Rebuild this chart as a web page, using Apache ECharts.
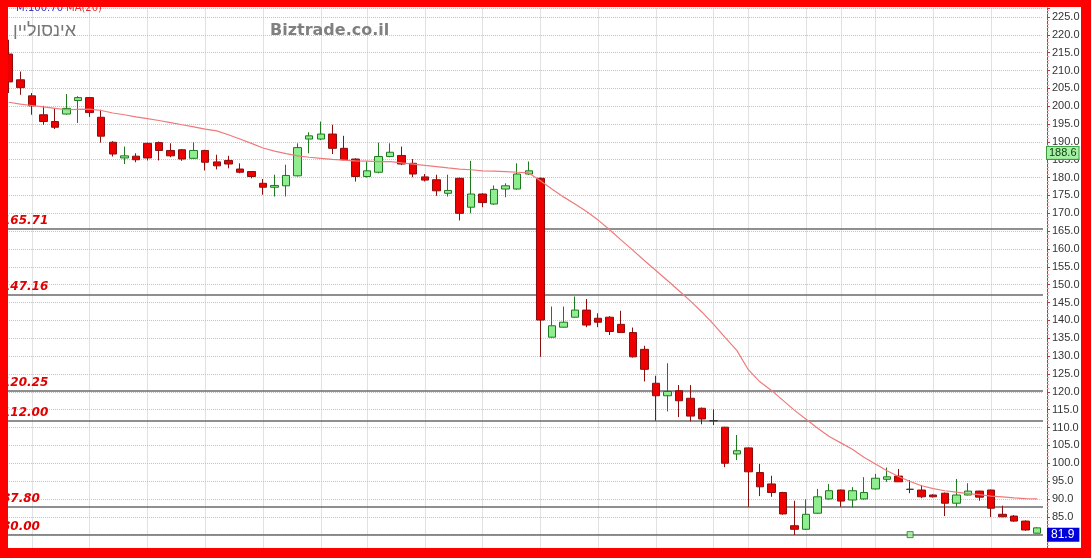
<!DOCTYPE html>
<html><head><meta charset="utf-8">
<script src="https://cdn.jsdelivr.net/npm/echarts/dist/echarts.min.js"></script>
<style>html,body{margin:0;padding:0;background:#fff;}#c{width:1091px;height:558px;}</style>
</head><body><div id="c"></div>
<script>
// ---- data ----
const categories = Array.from({length: 90}, (_, i) => 'D' + (i + 1));
const opens  = [214.6,207.4,202.9,197.6,195.7,197.8,201.6,202.4,196.9,189.9,
                185.5,186.0,189.6,189.8,187.6,187.8,185.4,187.6,184.4,184.8,
                182.4,181.7,178.4,177.3,177.7,180.5,190.8,190.8,192.2,188.2,
                185.2,180.3,181.5,185.9,186.2,184.0,180.2,179.4,175.6,179.8,
                171.7,175.4,172.6,176.8,176.8,181.0,179.8,135.3,138.1,140.9,
                142.9,140.6,140.9,138.9,136.6,131.9,122.4,118.9,120.3,118.2,
                115.4,111.9,110.1,102.6,104.3,97.4,94.2,91.8,82.5,81.5,
                86.0,90.0,92.5,89.7,90.0,92.8,95.5,96.4,92.7,92.5,
                91.1,91.6,88.8,91.1,92.2,92.5,85.7,85.2,83.8,80.4];
const closes = [206.8,205.2,200.1,195.7,194.1,199.4,202.4,198.2,191.6,186.6,
                186.1,185.0,185.5,187.6,186.1,185.2,187.6,184.3,183.3,183.8,
                181.5,180.3,177.3,177.8,180.6,188.4,191.7,192.2,188.2,185.0,
                180.3,181.9,185.9,187.1,183.8,181.0,179.3,176.3,176.4,170.0,
                175.4,173.0,176.7,177.7,181.0,181.9,140.1,138.5,139.5,142.9,
                138.7,139.5,136.9,136.6,129.8,126.3,118.9,120.1,117.5,113.2,
                112.4,111.9,100.0,103.5,97.6,93.4,91.8,85.8,81.5,85.7,
                90.6,92.3,89.4,92.3,91.8,95.8,96.2,94.8,92.7,90.6,
                90.6,88.8,91.1,92.2,90.5,87.4,85.0,83.8,81.3,81.9];
const lows   = [203.7,203.2,197.6,194.8,193.6,197.6,195.3,197.0,189.8,185.9,
                183.8,184.3,184.8,184.8,185.7,184.7,185.2,182.0,182.3,182.6,
                181.2,179.8,175.2,174.7,174.7,180.3,186.8,190.5,186.6,184.8,
                178.9,180.0,181.2,185.7,183.5,180.1,178.9,174.9,174.7,168.0,
                170.0,171.7,172.4,174.5,176.6,180.8,129.8,135.2,138.0,140.8,
                138.1,138.1,135.9,136.5,129.6,122.9,111.9,114.5,112.9,111.7,
                110.9,110.7,98.9,100.9,87.8,90.8,90.6,85.6,79.9,81.3,
                85.8,89.8,87.8,87.6,89.8,92.6,94.8,94.8,91.6,90.2,
                90.4,85.2,87.8,91.0,89.5,84.9,84.9,83.6,81.1,80.4];
const highs  = [218.6,209.7,203.7,200.1,199.5,203.4,202.8,202.6,199.0,190.2,
                188.7,186.8,189.8,190.1,189.6,188.0,189.9,187.8,186.4,186.1,
                184.0,181.8,179.6,180.8,183.6,189.6,192.7,195.7,194.8,191.7,
                185.4,184.5,189.8,189.6,188.7,185.2,181.0,180.8,180.8,180.0,
                184.7,175.6,177.8,178.4,184.0,184.5,180.0,143.9,143.9,146.7,
                146.0,142.0,141.2,142.7,138.0,132.9,124.5,128.0,121.9,121.9,
                115.6,115.1,110.2,107.9,104.4,99.8,96.5,92.0,89.5,89.9,
                92.8,94.2,92.6,93.3,96.1,97.0,98.8,98.4,95.3,93.9,
                91.3,91.8,95.6,94.4,92.3,92.6,88.1,85.5,84.0,82.1];
const ma20   = [201.1,200.6,200.2,199.8,199.4,199.0,199.1,199.2,198.8,198.1,
                197.6,197.0,196.5,196.0,195.4,194.8,194.2,193.6,193.1,192.0,
                190.8,189.6,188.3,187.4,186.7,186.1,185.7,185.4,185.1,184.9,
                184.7,184.6,184.5,184.5,184.1,183.8,183.4,183.1,182.7,182.4,
                182.2,181.9,181.8,181.7,181.5,181.3,179.1,176.8,174.6,172.6,
                170.5,168.1,165.4,162.5,159.7,156.8,154.0,151.2,148.3,145.4,
                142.3,138.9,135.2,131.6,126.2,122.8,120.4,117.6,114.8,112.3,
                109.8,107.5,105.7,103.9,101.7,99.8,97.9,96.3,94.9,93.7,
                92.9,92.3,91.9,91.5,91.2,90.8,90.6,90.3,90.1,90.0];
const levels = [165.71, 147.16, 120.25, 112.00, 87.80, 80.00];
const weekStarts = [2,7,12,17,22,27,31,36,41,46,51,56,61,64,69,72,75,80,85];
const lastPrice = 81.9;
const highPrice = 188.6;
const markerIndex = 78;
const markerValue = 80.0;
const yTickMin = 75, yTickMax = 227.5, yTickStep = 5;

// ---- build ----
const candleData = opens.map((o, i) => [o, closes[i], lows[i], highs[i]]);

const gridMarks = weekStarts.map(i => ({
  xAxis: categories[i],
  label: {show: false},
  lineStyle: {type: 'dotted', color: '#c4c4c4', width: 1}
}));
const levelMarks = levels.map(v => ({
  yAxis: v,
  lineStyle: {type: 'solid', color: '#6a6a6a', width: 1.5},
  label: {
    show: true, position: 'insideStartTop', formatter: v.toFixed(2),
    color: '#e00000', fontStyle: 'italic', fontWeight: 'bold', fontSize: 12,
    fontFamily: 'DejaVu Sans', distance: [-1, 2]
  }
}));
const hidden = {color: 'rgba(0,0,0,0)', width: 0};

const chart = echarts.init(document.getElementById('c'), null, {renderer: 'canvas'});
chart.setOption({
  animation: false,
  backgroundColor: '#ffffff',
  grid: {left: 3, top: 8, width: 1040, height: 544.5, containLabel: false, outerBoundsMode: 'none'},
  xAxis: {
    type: 'category', data: categories, boundaryGap: true,
    axisLine: {show: false}, axisTick: {show: false}, axisLabel: {show: false},
    splitLine: {show: false}
  },
  yAxis: {
    type: 'value', position: 'right', offset: 4,
    min: yTickMin, max: yTickMax, interval: yTickStep,
    axisLine: {show: true, lineStyle: {color: '#cc3333', width: 1}},
    axisTick: {show: true, length: 3, lineStyle: {color: '#cc3333'}},
    minorTick: {show: true, splitNumber: 5, length: 2, lineStyle: {color: '#eaa8a8'}},
    axisLabel: {
      margin: 5, color: '#333', fontSize: 11, fontFamily: 'Liberation Sans',
      formatter: v => (v > 226 || v < 76) ? '' : v.toFixed(1)
    },
    splitLine: {show: true, lineStyle: {type: 'dotted', color: '#c4c4c4', width: 1}}
  },
  series: [
    {
      type: 'candlestick', data: candleData, barWidth: 8, z: 3,
      itemStyle: {
        color: '#8fee8f', color0: '#ee0000',
        borderColor: '#1f7a1f', borderColor0: '#8a1010',
        borderColorDoji: '#333333', borderWidth: 1
      },
      markLine: {
        silent: true, symbol: ['none', 'none'], z: 10, animation: false,
        data: [
          {yAxis: highPrice, lineStyle: hidden,
           label: {show: true, position: 'end', formatter: highPrice.toFixed(1), distance: 4,
                   verticalAlign: 'top', backgroundColor: '#a6f0a6', borderColor: '#3c9a3c', borderWidth: 1,
                   color: '#0b3d0b', padding: [1, 2, 0, 2], fontSize: 11, fontFamily: 'Liberation Sans'}},
          {yAxis: lastPrice, lineStyle: hidden,
           label: {show: true, position: 'end', formatter: lastPrice.toFixed(1), distance: 4,
                   verticalAlign: 'top', backgroundColor: '#0000dd',
                   color: '#ffffff', padding: [1, 5, 1, 4], fontSize: 12, fontFamily: 'Liberation Sans'}}
        ]
      }
    },
    {
      type: 'line', data: ma20, symbol: 'none', z: 4,
      lineStyle: {color: '#f07a7a', width: 1.2}, itemStyle: {color: '#f07a7a'},
      markLine: {
        silent: true, symbol: ['none', 'none'], z: 1, animation: false,
        data: gridMarks.concat(levelMarks)
      }
    },
    {
      type: 'scatter', z: 5, symbol: 'rect', symbolSize: 6,
      data: [[categories[markerIndex], markerValue]],
      itemStyle: {color: '#9ef09e', borderColor: '#2f6f2f', borderWidth: 1}
    }
  ],
  graphic: [
    {type: 'text', z: 50, x: 76, y: 31,
     style: {text: 'אינסוליין', fill: '#777777', fontSize: 18, fontFamily: 'Liberation Sans',
             textAlign: 'right', textVerticalAlign: 'middle', align: 'right', verticalAlign: 'middle'}},
    {type: 'text', z: 50, x: 270, y: 31,
     style: {text: 'Biztrade.co.il', fill: '#808080', fontSize: 16, fontWeight: 'bold', fontFamily: 'DejaVu Sans',
             verticalAlign: 'middle', textVerticalAlign: 'middle'}},
    {type: 'text', z: 50, x: 16, y: 8,
     style: {text: 'M:100.70', fill: '#3333cc', fontSize: 10, fontFamily: 'DejaVu Sans', verticalAlign: 'middle'}},
    {type: 'text', z: 50, x: 66, y: 8,
     style: {text: 'MA(20)', fill: '#e03030', fontSize: 10, fontFamily: 'DejaVu Sans', verticalAlign: 'middle'}},
    {type: 'rect', z: 100, shape: {x: 0, y: 0, width: 1091, height: 7}, style: {fill: '#ff0000'}},
    {type: 'rect', z: 100, shape: {x: 0, y: 0, width: 8, height: 558}, style: {fill: '#ff0000'}},
    {type: 'rect', z: 100, shape: {x: 1081, y: 0, width: 10, height: 558}, style: {fill: '#ff0000'}},
    {type: 'rect', z: 100, shape: {x: 0, y: 548, width: 1091, height: 10}, style: {fill: '#ff0000'}}
  ]
});
</script>
</body></html>
